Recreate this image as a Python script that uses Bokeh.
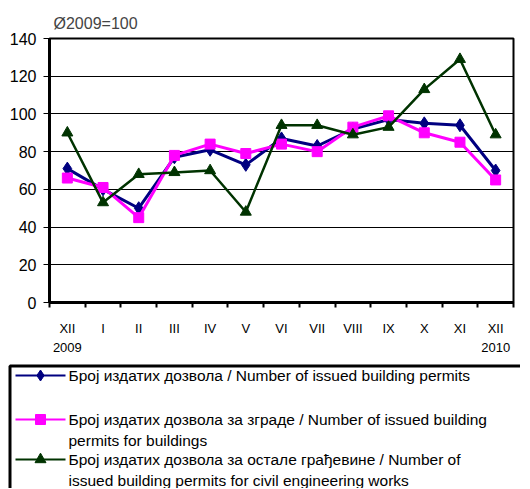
from bokeh.plotting import figure
from bokeh.layouts import column
from bokeh.models import Range1d, FixedTicker, LinearAxis
from bokeh.embed import file_html
from bokeh.resources import INLINE
from bokeh.core.properties import value

months = ["XII", "I", "II", "III", "IV", "V", "VI", "VII", "VIII", "IX", "X", "XI", "XII"]
year_labels = {0: "2009", 12: "2010"}
total = [71, 60, 50, 77, 81, 73, 87, 83, 92, 97, 95, 94, 70]
buildings = [66, 61, 45, 78, 84, 79, 84, 80, 93, 99, 90, 85, 65]
civil = [90, 53, 68, 69, 70, 48, 94, 94, 89, 93, 113, 129, 89]
y_ticks = [0, 20, 40, 60, 80, 100, 120, 140]
title_text = "Ø2009=100"
legend_labels = [
    "Број издатих дозвола / Number  of  issued building permits",
    "Број издатих дозвола за зграде  / Number  of  issued building\npermits for buildings",
    "Број издатих дозвола за остале грађевине  / Number  of\nissued building permits for civil engineering works",
]

FONT = "Liberation Sans"
BLUE, PINK, GREEN = "#000080", "#FF00FF", "#003300"

x = list(range(len(months)))
W = 520

p = figure(width=W, height=360, output_backend="svg", toolbar_location=None,
           x_range=Range1d(-0.5, len(months) - 0.5), y_range=Range1d(0, 140),
           min_border_left=49, min_border_right=7, min_border_top=38, min_border_bottom=58,
           x_axis_type=None, frame_align=False)
p.title.text = title_text
p.title.text_font = FONT
p.title.text_font_size = "16px"
p.title.text_font_style = "normal"
p.title.align = "left"
p.title.offset = 4
p.title.standoff = 13
p.outline_line_color = "black"
p.outline_line_width = 2
p.background_fill_color = "white"
p.border_fill_color = "white"

# y axis
p.yaxis.ticker = FixedTicker(ticks=y_ticks)
p.yaxis.axis_line_width = 3
p.yaxis.axis_line_color = "black"
p.yaxis.major_tick_out = 6
p.yaxis.major_tick_in = 0
p.yaxis.major_tick_line_width = 1
p.yaxis.minor_tick_line_color = None
p.yaxis.major_label_text_font = FONT
p.yaxis.major_label_text_font_size = "16px"
p.yaxis.major_label_text_color = "black"
p.yaxis.major_label_standoff = 7
p.ygrid.ticker = FixedTicker(ticks=y_ticks)
p.ygrid.grid_line_color = "black"
p.ygrid.grid_line_width = 1
p.xgrid.grid_line_color = None

# x axis: month labels at centres, ticks at boundaries
bounds = [i - 0.5 for i in range(len(months) + 1)]
xa = LinearAxis(ticker=FixedTicker(ticks=x, minor_ticks=bounds),
                major_label_overrides={i: m for i, m in enumerate(months)})
xa.axis_line_width = 3
xa.axis_line_color = "black"
xa.major_tick_out = 0
xa.major_tick_in = 0
xa.minor_tick_out = 5
xa.minor_tick_in = 0
xa.minor_tick_line_width = 2
xa.minor_tick_line_color = "black"
xa.major_label_text_font = FONT
xa.major_label_text_font_size = "13px"
xa.major_label_text_color = "black"
xa.major_label_standoff = 13
p.add_layout(xa, "below")

ya = LinearAxis(ticker=FixedTicker(ticks=list(year_labels.keys())),
                major_label_overrides=year_labels)
ya.axis_line_color = None
ya.major_tick_line_color = None
ya.minor_tick_line_color = None
ya.major_label_text_font = FONT
ya.major_label_text_font_size = "13px"
ya.major_label_text_color = "black"
ya.major_label_standoff = -2
p.add_layout(ya, "below")

p.line(x, total, line_color=BLUE, line_width=3)
p.scatter(x, total, marker="diamond", size=13, fill_color=BLUE, line_color=BLUE)
p.line(x, buildings, line_color=PINK, line_width=3)
p.scatter(x, buildings, marker="square", size=10, fill_color=PINK, line_color=PINK)
p.line(x, civil, line_color=GREEN, line_width=2.5)
p.scatter(x, civil, marker="triangle", size=11, fill_color=GREEN, line_color=GREEN)

# legend panel
LH = 128
leg = figure(width=W, height=LH, output_backend="svg", toolbar_location=None,
             x_range=Range1d(0, W), y_range=Range1d(LH, 0),
             min_border=0, x_axis_type=None, y_axis_type=None, frame_align=False)
leg.outline_line_color = None
leg.xgrid.grid_line_color = None
leg.ygrid.grid_line_color = None
leg.quad(left=[9.5], right=[560], top=[5.5], bottom=[200], fill_color=None,
         line_color="black", line_width=3)

colors = [BLUE, PINK, GREEN]
markers = ["diamond", "square", "triangle"]
msizes = [11, 10, 11]
row_y = [15, 59, 99]
line_gap = 21
tx, ty, tt = [], [], []
for label, yy in zip(legend_labels, row_y):
    for k, part in enumerate(label.split("\n")):
        tx.append(68)
        ty.append(yy + k * line_gap)
        tt.append(part)
for c, m, s, yy in zip(colors, markers, msizes, row_y):
    leg.segment(x0=[15], y0=[yy], x1=[65], y1=[yy], line_color=c, line_width=2)
    leg.scatter([40], [yy], marker=m, size=s, fill_color=c, line_color=c)
leg.text(tx, ty, text=tt, text_font=value(FONT), text_font_size="15.5px",
         text_baseline="middle", text_align="left", text_color="black")

layout = column(p, leg, spacing=0)
open("out.html", "w").write(file_html(layout, INLINE))
